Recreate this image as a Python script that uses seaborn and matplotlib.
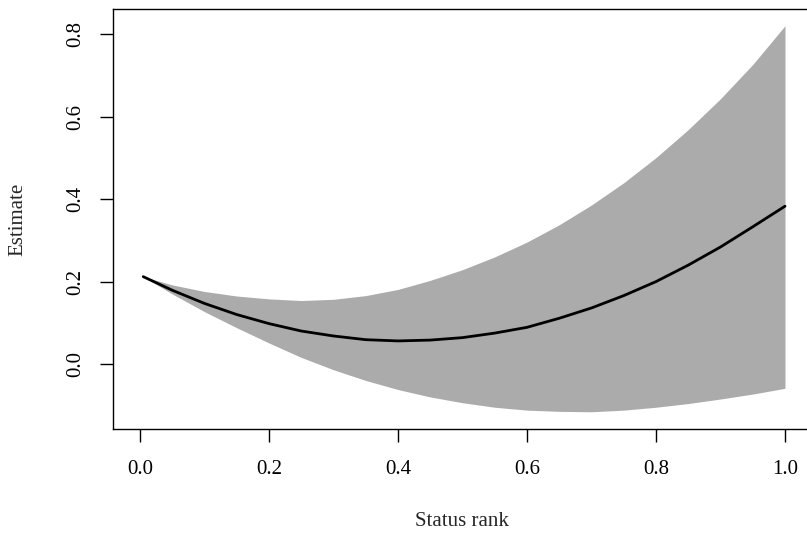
import numpy as np
import pandas as pd
import matplotlib
matplotlib.use("Agg")
import matplotlib.pyplot as plt
import seaborn as sns

# Values
status_rank = [0.005, 0.05, 0.10, 0.15, 0.20, 0.25, 0.30, 0.35, 0.40, 0.45, 0.50,
               0.55, 0.60, 0.65, 0.70, 0.75, 0.80, 0.85, 0.90, 0.95, 1.00]
estimate = [0.212, 0.179, 0.147, 0.120, 0.098, 0.080, 0.068, 0.059, 0.056, 0.058, 0.064,
            0.075, 0.089, 0.111, 0.136, 0.166, 0.200, 0.240, 0.284, 0.333, 0.383]
upper = [0.212, 0.192, 0.176, 0.165, 0.158, 0.154, 0.157, 0.166, 0.181, 0.203, 0.229,
         0.260, 0.296, 0.338, 0.386, 0.440, 0.501, 0.569, 0.644, 0.727, 0.821]
lower = [0.212, 0.170, 0.127, 0.088, 0.051, 0.016, -0.014, -0.040, -0.062, -0.080, -0.094,
         -0.105, -0.112, -0.115, -0.116, -0.112, -0.105, -0.096, -0.085, -0.073, -0.059]

x_ticks = [0.0, 0.2, 0.4, 0.6, 0.8, 1.0]
y_ticks = [0.0, 0.2, 0.4, 0.6, 0.8]
x_label = "Status rank"
y_label = "Estimate"

df = pd.DataFrame({"rank": status_rank, "est": estimate, "lo": lower, "hi": upper})

sns.set_style("ticks")
plt.rcParams["font.family"] = ["Liberation Serif", "DejaVu Serif"]

fig = plt.figure(figsize=(8.07, 5.36), dpi=100)
ax = fig.add_axes([113.5 / 807, (536 - 429) / 536, (811 - 113.5) / 807, 420 / 536])

ax.fill_between(df["rank"], df["lo"], df["hi"], color="#ABABAB", linewidth=0)
sns.lineplot(data=df, x="rank", y="est", ax=ax, color="black", linewidth=2.0)

ax.set_xlim(-0.0411, 1.0403)
ax.set_ylim(-0.1578, 0.8617)
ax.set_xticks(x_ticks)
ax.set_xticklabels([f"{v:.1f}" for v in x_ticks])
ax.set_yticks(y_ticks)
ax.set_yticklabels([f"{v:.1f}" for v in y_ticks], rotation=90, va="center")

ax.tick_params(axis="both", direction="out", length=9.5, width=1.0, color="black",
               labelsize=15, labelcolor="black")
ax.tick_params(axis="x", pad=13)
ax.tick_params(axis="y", pad=11)

for s in ax.spines.values():
    s.set_visible(True)
    s.set_color("black")
    s.set_linewidth(1.0)

ax.set_xlabel(x_label, fontsize=15)
ax.set_ylabel(y_label, fontsize=15)
ax.xaxis.set_label_coords(0.5, -(522 - 429) / 420)
ax.xaxis.label.set_va("center")
ax.yaxis.set_label_coords((18 - 113.5) / 697.5, 0.5)
ax.yaxis.label.set_va("center")

fig.savefig("out.png", dpi=100, facecolor="white")
